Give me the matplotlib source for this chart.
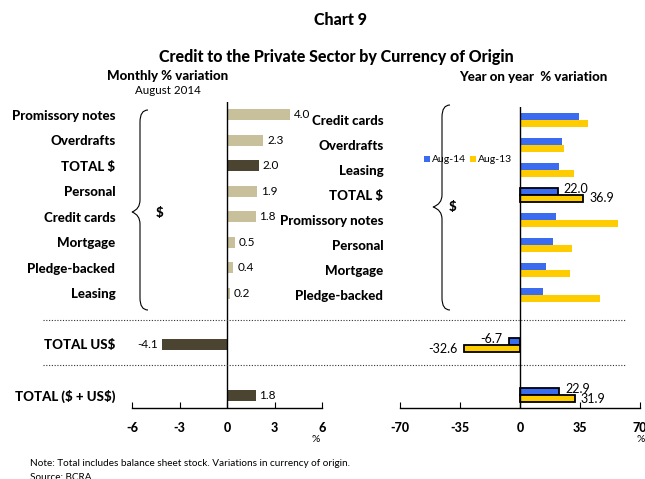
import matplotlib
matplotlib.use("Agg")
import matplotlib.pyplot as plt
from matplotlib.path import Path
from matplotlib.patches import PathPatch
from matplotlib.lines import Line2D

plt.rcParams['font.family'] = ['Lato', 'DejaVu Sans']
plt.rcParams['text.parse_math'] = False
plt.rcParams['axes.unicode_minus'] = False

# Left panel: monthly % variation, August 2014
left_labels = ["Promissory notes", "Overdrafts", "TOTAL $", "Personal", "Credit cards",
               "Mortgage", "Pledge-backed", "Leasing", "TOTAL US$", "TOTAL ($ + US$)"]
left_values = [4.0, 2.3, 2.0, 1.9, 1.8, 0.5, 0.4, 0.2, -4.1, 1.8]

# Right panel: year on year % variation
right_labels = ["Credit cards", "Overdrafts", "Leasing", "TOTAL $", "Promissory notes",
                "Personal", "Mortgage", "Pledge-backed", "TOTAL US$", "TOTAL ($ + US$)"]
aug14 = [34.4, 24.3, 22.7, 22.0, 20.8, 19.3, 15.0, 13.3, -6.7, 22.9]
aug13 = [39.6, 25.7, 31.4, 36.9, 56.9, 30.4, 29.0, 46.5, -32.6, 31.9]

rows = [0, 1, 2, 3, 4, 5, 6, 7, 9, 11]
n_peso = 8
light = "#c8bf9b"
dark = "#4b4430"
blue = "#3b6cf0"
yellow = "#ffcc00"
heavy = "black"  # font weight, falls back to bold if missing

W, H = 645, 479
fig = plt.figure(figsize=(W / 100, H / 100), dpi=100)


def rect(x0, y0, x1, y1):
    return [x0 / W, 1 - y1 / H, (x1 - x0) / W, (y1 - y0) / H]


def fx(x):
    return x / W


def fy(y):
    return 1 - y / H


def brace(xb, xt, y0, y1, ym, w=8, r=12):
    verts = [(xb + w, y0), (xb, y0), (xb, y0 + r), (xb, y0 + r),
             (xb, ym - r), (xb, ym - 3), (xt, ym),
             (xb, ym + 3), (xb, ym + r),
             (xb, y1 - r), (xb, y1 - r), (xb, y1), (xb + w, y1)]
    codes = [Path.MOVETO, Path.CURVE3, Path.CURVE3, Path.LINETO,
             Path.LINETO, Path.CURVE3, Path.CURVE3,
             Path.CURVE3, Path.CURVE3,
             Path.LINETO, Path.LINETO, Path.CURVE3, Path.CURVE3]
    verts = [(fx(a), fy(b)) for a, b in verts]
    fig.add_artist(PathPatch(Path(verts, codes), fill=False, lw=0.8,
                             transform=fig.transFigure, color="black"))


def style_axis(ax):
    for s in ["top", "right", "left"]:
        ax.spines[s].set_visible(False)
    ax.spines["bottom"].set_linewidth(1.0)
    ax.axvline(0, color="black", lw=1.0)
    ax.tick_params(axis="x", direction="in", length=4, pad=10, labelsize=9)
    ax.tick_params(axis="y", length=0, labelsize=9.5, pad=12)
    for t in ax.get_xticklabels() + ax.get_yticklabels():
        t.set_fontweight(heavy)


# ---- left panel
axl = fig.add_axes(rect(132, 102, 322, 408))
cols = [dark if "TOTAL" in lab else light for lab in left_labels]
axl.barh(rows, left_values, height=0.42, color=cols)
for y, v in zip(rows, left_values):
    if v >= 0:
        axl.text(v + 0.25, y, f"{v:.1f}", va="center", ha="left", fontsize=8.5)
    else:
        axl.text(v - 0.25, y, f"{v:.1f}", va="center", ha="right", fontsize=8.5)
axl.set_xlim(-6, 6)
axl.set_ylim(11.5, -0.5)
axl.set_xticks([-6, -3, 0, 3, 6])
axl.set_yticks(rows)
axl.set_yticklabels(left_labels)
style_axis(axl)

# ---- right panel
axr = fig.add_axes(rect(400, 107, 640, 408))
h = 0.28
ec = ["black" if "TOTAL" in lab else "none" for lab in right_labels]
lw = [1.3 if "TOTAL" in lab else 0 for lab in right_labels]
b14 = axr.barh([r - h / 2 for r in rows], aug14, height=h, color=blue,
               edgecolor=ec, linewidth=lw, label="Aug-14")
b13 = axr.barh([r + h / 2 for r in rows], aug13, height=h, color=yellow,
               edgecolor=ec, linewidth=lw, label="Aug-13")
for y, v14, v13, lab in zip(rows, aug14, aug13, right_labels):
    if "TOTAL" not in lab:
        continue
    for v, off in [(v14, -h / 2 - 0.1), (v13, h / 2)]:
        if v >= 0:
            axr.text(v + 3.5, y + off, f"{v:.1f}", va="center", ha="left", fontsize=9)
        else:
            axr.text(v - 3.5, y + off, f"{v:.1f}", va="center", ha="right", fontsize=9)
axr.set_xlim(-70, 70)
axr.set_ylim(11.5, -0.5)
axr.set_xticks([-70, -35, 0, 35, 70])
axr.set_yticks(rows[:n_peso])
axr.set_yticklabels(right_labels[:n_peso])
style_axis(axr)
axr.legend(handles=[b14, b13], loc="center", bbox_to_anchor=(fx(468), fy(160)),
           bbox_transform=fig.transFigure, ncol=2, fontsize=7.5, frameon=False,
           handlelength=0.6, handleheight=0.6, handletextpad=0.2, columnspacing=0.4)

# braces and $ signs
brace(140, 132, 110, 310, 212)
fig.text(fx(160), fy(213), "$", fontsize=9.5, fontweight=heavy, ha="center", va="center")
brace(442, 433, 105, 310, 207)
fig.text(fx(453), fy(207), "$", fontsize=9.5, fontweight=heavy, ha="center", va="center")

# dotted separators
for yy in [320, 365]:
    fig.add_artist(Line2D([fx(43), fx(625)], [fy(yy), fy(yy)], ls=(0, (1, 1.5)),
                          lw=0.8, color="#333333", transform=fig.transFigure))

# titles and notes
fig.text(fx(340), fy(20), "Chart 9", fontsize=11.5, fontweight=heavy, ha="center", va="center")
fig.text(fx(336), fy(57), "Credit to the Private Sector by Currency of Origin",
         fontsize=11.5, fontweight=heavy, ha="center", va="center")
fig.text(fx(168), fy(76), "Monthly % variation", fontsize=9.5, fontweight=heavy,
         ha="center", va="center")
fig.text(fx(168), fy(90), "August 2014", fontsize=8.3, ha="center", va="center")
fig.text(fx(533), fy(77), "Year on year  % variation", fontsize=9.5, fontweight=heavy,
         ha="center", va="center")
fig.text(fx(316), fy(440), "%", fontsize=7.5, ha="center", va="center")
fig.text(fx(641), fy(440), "%", fontsize=7.5, ha="center", va="center")
fig.text(fx(30), fy(463), "Note: Total includes balance sheet stock. Variations in currency of origin.",
         fontsize=7.2, ha="left", va="center")
fig.text(fx(30), fy(478), "Source: BCRA", fontsize=7.2, ha="left", va="center")

fig.savefig("out.png", dpi=100)
